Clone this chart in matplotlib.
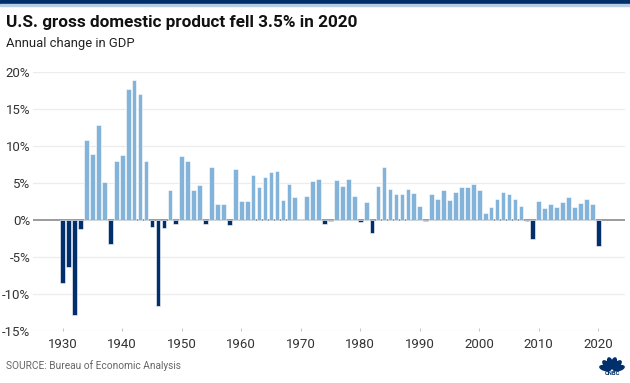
import matplotlib
matplotlib.use("Agg")
import matplotlib.pyplot as plt
from matplotlib.patches import Ellipse
import numpy as np

years = list(range(1930, 2021))
growth = [-8.5, -6.4, -12.9, -1.2, 10.8, 8.9, 12.9, 5.1, -3.3, 8.0,
          8.8, 17.7, 18.9, 17.0, 8.0, -1.0, -11.6, -1.1, 4.1, -0.6,
          8.7, 8.0, 4.1, 4.7, -0.6, 7.1, 2.1, 2.1, -0.7, 6.9,
          2.6, 2.6, 6.1, 4.4, 5.8, 6.5, 6.6, 2.7, 4.9, 3.1,
          0.2, 3.3, 5.3, 5.6, -0.5, -0.2, 5.4, 4.6, 5.5, 3.2,
          -0.3, 2.5, -1.8, 4.6, 7.2, 4.2, 3.5, 3.5, 4.2, 3.7,
          1.9, -0.1, 3.5, 2.8, 4.0, 2.7, 3.8, 4.4, 4.5, 4.8,
          4.1, 1.0, 1.7, 2.9, 3.8, 3.5, 2.9, 1.9, -0.1, -2.5,
          2.6, 1.6, 2.2, 1.8, 2.5, 3.1, 1.7, 2.3, 2.9, 2.2,
          -3.5]
y_ticks = [20, 15, 10, 5, 0, -5, -10, -15]
y_labels = ["20%", "15%", "10%", "5%", "0%", "-5%", "-10%", "-15%"]
x_ticks = [1930, 1940, 1950, 1960, 1970, 1980, 1990, 2000, 2010, 2020]

POS = "#84b3d9"
NEG = "#002f6c"
W, H = 630, 383

fig = plt.figure(figsize=(W / 100, H / 100), dpi=100)
fig.patch.set_facecolor("white")

# top banner stripe
fig.patches.append(plt.Rectangle((0, 1 - 4 / H), 1, 4 / H, transform=fig.transFigure,
                                 color=NEG, zorder=0))
fig.patches.append(plt.Rectangle((0, 1 - 5.5 / H), 1, 1.5 / H, transform=fig.transFigure,
                                 color="#b9cde3", zorder=0))

left, right = 33, 625
top, bottom = 72, 331
ax = fig.add_axes([left / W, (H - bottom) / H, (right - left) / W, (bottom - top) / H])

colors = [POS if v >= 0 else NEG for v in growth]
ax.bar(years, growth, width=0.78, color=colors, edgecolor="white", linewidth=0.4,
       zorder=3, clip_on=False)

ax.set_xlim(1925.0, 2024.5)
ax.set_ylim(-15, 20)
ax.set_yticks(y_ticks)
ax.set_yticklabels(y_labels)
ax.set_xticks(x_ticks)
ax.set_xticklabels([str(x) for x in x_ticks])

for t in y_ticks:
    if t != 0:
        ax.axhline(t, color="#ececec", linewidth=0.9, zorder=1)
ax.axhline(0, color="#8a8a8a", linewidth=1.2, zorder=2)

for s in ax.spines.values():
    s.set_visible(False)
ax.tick_params(axis="y", length=0, labelsize=9.5, labelcolor="#333333", pad=2)
ax.tick_params(axis="x", length=2.5, width=0.6, color="#bbbbbb", direction="in",
               labelsize=9.5, labelcolor="#333333", pad=5)
for lbl in ax.get_yticklabels() + ax.get_xticklabels():
    lbl.set_fontfamily("Roboto")

fig.text(6 / W, 1 - 23 / H, "U.S. gross domestic product fell 3.5% in 2020",
         fontsize=12.3, fontweight="bold", color="#111111", va="center", ha="left",
         family="Roboto")
fig.text(6 / W, 1 - 44 / H, "Annual change in GDP", fontsize=9.4,
         color="#222222", va="center", ha="left", family="Roboto")
fig.text(6 / W, 1 - 366 / H, "SOURCE: Bureau of Economic Analysis", fontsize=7.3,
         color="#666666", va="center", ha="left", family="Roboto")

# CNBC peacock logo (simple approximation)
lax = fig.add_axes([598 / W, (H - 377) / H, 28 / W, 22 / H])
lax.set_xlim(-14, 14)
lax.set_ylim(-7, 15)
lax.axis("off")
for ang in [15, 45, 75, 105, 135, 165]:
    r = 7.0
    cx, cy = r * np.cos(np.radians(ang)), r * np.sin(np.radians(ang))
    lax.add_patch(Ellipse((cx, cy), 11, 4.6, angle=ang, color=NEG))
lax.text(0, -3.5, "CNBC", fontsize=4.2, fontweight="bold", color=NEG,
         ha="center", va="center", family="Roboto")

fig.savefig("out.png", dpi=100)
